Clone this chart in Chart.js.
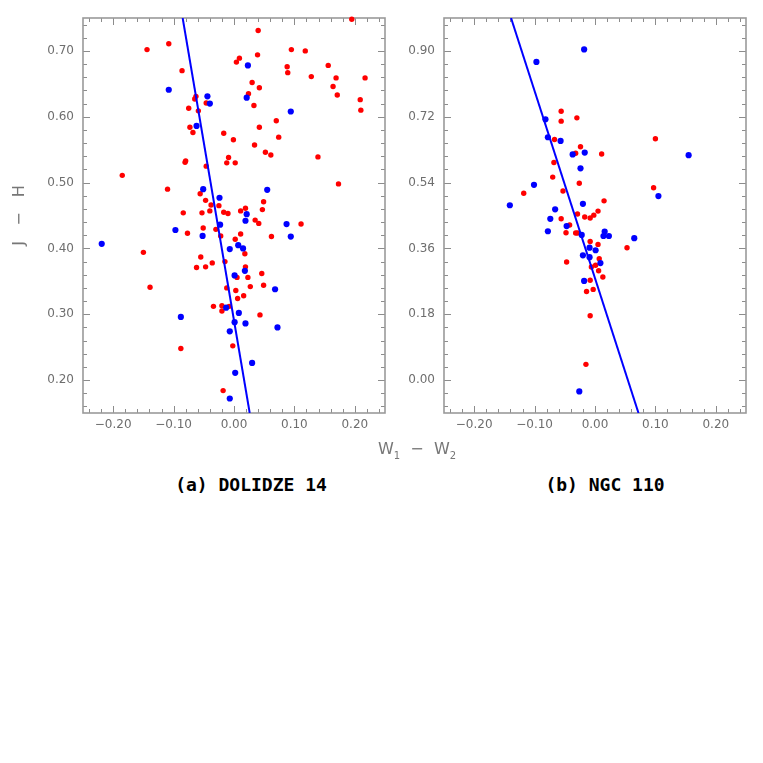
<!DOCTYPE html>
<html>
<head>
<meta charset="utf-8">
<script src="https://cdn.jsdelivr.net/npm/chart.js@4.4.0/dist/chart.umd.min.js"></script>
<style>
  html, body { margin: 0; padding: 0; background: #fff; width: 763px; height: 763px; overflow: hidden; }
  #wrap { position: relative; width: 763px; height: 763px; }
  canvas { position: absolute; top: 0; }
  #dolidze { left: 0; }
  #ngc { left: 400px; }
  .caption { position: absolute; transform: translate(-50%, -50%); white-space: nowrap;
             font-family: "DejaVu Sans Mono"; font-weight: bold; font-size: 18px; color: #000; }
  #xtitle { position: absolute; transform: translate(-50%, -50%); white-space: nowrap;
            font-family: "DejaVu Sans"; font-size: 16px; color: #777; }
  #xtitle sub { font-size: 10px; }
</style>
</head>
<body>
<div id="wrap">
  <canvas id="dolidze" width="400" height="440"></canvas>
  <canvas id="ngc" width="363" height="440"></canvas>
  <div id="xtitle" style="left:417px; top:450px;">W<sub>1</sub>&nbsp;&nbsp;−&nbsp;&nbsp;W<sub>2</sub></div>
  <div class="caption" style="left:251px; top:484px;">(a) DOLIDZE 14</div>
  <div class="caption" style="left:605px; top:484px;">(b) NGC 110</div>
</div>
<script>
// tick labels
const xTicks = [-0.20, -0.10, 0.00, 0.10, 0.20];
const dolYTicks = [0.20, 0.30, 0.40, 0.50, 0.60, 0.70];
const ngcYTicks = [0.00, 0.18, 0.36, 0.54, 0.72, 0.90];

// Dolidze 14 - red stars
const dolRedX = [-0.144, -0.108, 0.004, -0.086, -0.063, -0.065, -0.046, -0.075, -0.059, -0.073,
  -0.068, -0.017, -0.001, -0.009, -0.012, 0.002, -0.080, -0.081, -0.046, -0.185,
  -0.110, -0.056, -0.047, -0.038, -0.025, -0.084, -0.053, -0.040, -0.017, -0.010,
  0.011, 0.040, 0.195, 0.095, 0.118, 0.009, 0.039, 0.088, 0.089, 0.156,
  0.128, 0.169, 0.217, 0.030, 0.042, 0.164, 0.024, 0.171, 0.033, 0.209,
  0.210, 0.070, 0.042, 0.074, 0.034, 0.052, 0.061, 0.139, 0.173, 0.049,
  0.047, 0.019, -0.051, -0.077, -0.030, -0.022, 0.002, 0.011, -0.150, -0.055,
  -0.036, -0.015, -0.062, -0.047, 0.005, -0.139, -0.012, 0.003, 0.006, -0.034,
  -0.020, -0.008, -0.020, -0.088, -0.002, -0.018, 0.035, 0.041, 0.111, 0.062,
  0.018, 0.019, 0.023, 0.046, 0.027, 0.049, 0.016, 0.043];
const dolRedY = [0.702, 0.711, 0.683, 0.670, 0.631, 0.627, 0.621, 0.613, 0.609, 0.584,
  0.576, 0.575, 0.565, 0.538, 0.530, 0.530, 0.533, 0.531, 0.525, 0.511,
  0.490, 0.483, 0.473, 0.466, 0.465, 0.454, 0.454, 0.457, 0.455, 0.453,
  0.457, 0.731, 0.748, 0.702, 0.700, 0.689, 0.694, 0.676, 0.667, 0.678,
  0.661, 0.659, 0.659, 0.652, 0.644, 0.646, 0.635, 0.633, 0.617, 0.626,
  0.610, 0.594, 0.584, 0.569, 0.557, 0.546, 0.542, 0.539, 0.498, 0.471,
  0.459, 0.461, 0.431, 0.423, 0.429, 0.419, 0.414, 0.422, 0.394, 0.387,
  0.378, 0.380, 0.371, 0.372, 0.356, 0.341, 0.340, 0.336, 0.324, 0.312,
  0.313, 0.312, 0.305, 0.248, 0.252, 0.184, 0.443, 0.438, 0.437, 0.418,
  0.392, 0.372, 0.356, 0.362, 0.342, 0.344, 0.328, 0.299];

// Dolidze 14 - blue stars
const dolBlueX = [-0.108, -0.044, -0.040, -0.062, -0.051, -0.024, 0.023, 0.021, 0.094, 0.055,
  0.021, -0.219, -0.097, -0.052, -0.023, -0.007, 0.007, 0.001, -0.013, -0.088,
  0.001, -0.007, 0.002, -0.007, 0.008, 0.019, 0.087, 0.094, 0.015, 0.018,
  0.068, 0.019, 0.072, 0.030];
const dolBlueY = [0.641, 0.631, 0.620, 0.586, 0.490, 0.477, 0.678, 0.629, 0.608, 0.489,
  0.452, 0.407, 0.428, 0.419, 0.436, 0.399, 0.405, 0.359, 0.310, 0.296,
  0.288, 0.274, 0.211, 0.172, 0.302, 0.442, 0.437, 0.418, 0.400, 0.366,
  0.338, 0.286, 0.280, 0.226];

// Dolidze 14 - line
const dolLineX = [-0.085, 0.026];
const dolLineY = [0.75, 0.15];

// NGC 110 - red stars
const ngcRedX = [-0.056, -0.056, -0.030, -0.067, -0.024, -0.032, 0.011, 0.100, -0.068, -0.070,
  -0.026, 0.097, -0.053, -0.118, 0.015, -0.029, -0.056, -0.017, -0.008, -0.002,
  0.005, -0.042, -0.048, -0.032, -0.029, -0.008, 0.005, 0.053, -0.047, 0.007,
  -0.006, 0.001, 0.006, 0.013, -0.008, -0.014, -0.003, -0.008, -0.015];
const ngcRedY = [0.735, 0.708, 0.717, 0.658, 0.638, 0.620, 0.618, 0.660, 0.595, 0.555,
  0.538, 0.526, 0.517, 0.511, 0.490, 0.454, 0.441, 0.446, 0.443, 0.451,
  0.462, 0.424, 0.403, 0.402, 0.402, 0.379, 0.371, 0.362, 0.323, 0.332,
  0.309, 0.314, 0.299, 0.282, 0.273, 0.242, 0.248, 0.176, 0.043];

// NGC 110 - blue stars
const ngcBlueX = [-0.018, -0.097, -0.082, -0.078, -0.057, -0.037, -0.017, -0.024, -0.101, 0.105,
  0.155, -0.141, -0.020, -0.066, -0.074, -0.047, -0.078, -0.022, 0.016, 0.014,
  0.023, 0.065, -0.009, 0.001, -0.020, -0.009, 0.009, -0.018, -0.026];
const ngcBlueY = [0.904, 0.870, 0.713, 0.664, 0.654, 0.617, 0.622, 0.579, 0.534, 0.503,
  0.615, 0.478, 0.482, 0.467, 0.441, 0.421, 0.407, 0.397, 0.406, 0.394,
  0.394, 0.388, 0.362, 0.355, 0.341, 0.336, 0.320, 0.271, -0.031];

// NGC 110 - line
const ngcLineX = [-0.139, 0.072];
const ngcLineY = [0.99, -0.09];

const RED = '#ff0000';
const BLUE = '#0000ff';

function pts(xs, ys) {
  return xs.map((x, i) => ({ x: x, y: ys[i] }));
}

function fmt(v) {
  const s = Math.abs(v) < 1e-9 ? '0.00' : v.toFixed(2);
  return s.replace('-', '\u2212');
}

// frame and inward ticks on all four sides
const frameTicks = {
  id: 'frameTicks',
  beforeDatasetsDraw(chart, args, opts) {
    const { ctx, chartArea: a } = chart;
    const xs = chart.scales.x, ys = chart.scales.y;
    ctx.save();
    ctx.strokeStyle = '#8c8c8c';
    ctx.lineWidth = 1;
    ctx.beginPath();
    for (let i = -12; i <= 12; i++) {
      const px = Math.round(xs.getPixelForValue(i * 0.02)) + 0.5;
      const len = i % 5 === 0 ? 7 : 4;
      ctx.moveTo(px, a.bottom); ctx.lineTo(px, a.bottom - len);
      ctx.moveTo(px, a.top); ctx.lineTo(px, a.top + len);
    }
    for (let i = opts.from; i <= opts.to; i++) {
      const py = Math.round(ys.getPixelForValue(i * opts.step)) + 0.5;
      const len = i % 5 === 0 ? 7 : 4;
      ctx.moveTo(a.left, py); ctx.lineTo(a.left + len, py);
      ctx.moveTo(a.right, py); ctx.lineTo(a.right - len, py);
    }
    ctx.stroke();
    ctx.strokeStyle = '#9a9a9a';
    ctx.lineWidth = 1.6;
    ctx.strokeRect(a.left, a.top, a.width, a.height);
    ctx.restore();
  }
};

function makePanel(id, red, blue, line, yMin, yMax, yTicks, tickOpts, yTitle, yWidth, padRight) {
  const tickFont = { family: 'DejaVu Sans', size: 12 };
  return new Chart(document.getElementById(id), {
    type: 'scatter',
    data: {
      datasets: [
        { data: line, showLine: true, pointRadius: 0, borderColor: BLUE, borderWidth: 2 },
        { data: blue, pointRadius: 3.1, backgroundColor: BLUE, borderWidth: 0, clip: false },
        { data: red, pointRadius: 2.7, backgroundColor: RED, borderWidth: 0, clip: false }
      ]
    },
    options: {
      responsive: false,
      devicePixelRatio: 1,
      animation: false,
      events: [],
      layout: { padding: { top: 18, right: padRight, left: 0, bottom: 0 } },
      plugins: { legend: { display: false }, tooltip: { enabled: false }, frameTicks: tickOpts },
      scales: {
        x: {
          type: 'linear', min: -0.25, max: 0.25,
          afterBuildTicks: s => { s.ticks = xTicks.map(v => ({ value: v })); },
          afterFit: s => { s.height = 27; },
          grid: { display: false, drawTicks: false },
          border: { display: false },
          ticks: { padding: 5, color: '#6e6e6e', font: tickFont, maxRotation: 0, callback: v => fmt(v) }
        },
        y: {
          type: 'linear', min: yMin, max: yMax,
          afterBuildTicks: s => { s.ticks = yTicks.map(v => ({ value: v })); },
          afterFit: s => { s.width = yWidth; },
          grid: { display: false, drawTicks: false },
          border: { display: false },
          ticks: { padding: 9, color: '#6e6e6e', font: tickFont, callback: v => fmt(v) },
          title: {
            display: !!yTitle, text: yTitle, color: '#777',
            font: { family: 'DejaVu Sans', size: 16 }, padding: { top: 10, bottom: 0 }
          }
        }
      }
    },
    plugins: [frameTicks]
  });
}

makePanel('dolidze', pts(dolRedX, dolRedY), pts(dolBlueX, dolBlueY), pts(dolLineX, dolLineY),
  0.15, 0.75, dolYTicks, { step: 0.02, from: 8, to: 37 }, 'J   \u2212   H', 83, 15);

makePanel('ngc', pts(ngcRedX, ngcRedY), pts(ngcBlueX, ngcBlueY), pts(ngcLineX, ngcLineY),
  -0.09, 0.99, ngcYTicks, { step: 0.036, from: -2, to: 27 }, '', 44, 17);
</script>
</body>
</html>
